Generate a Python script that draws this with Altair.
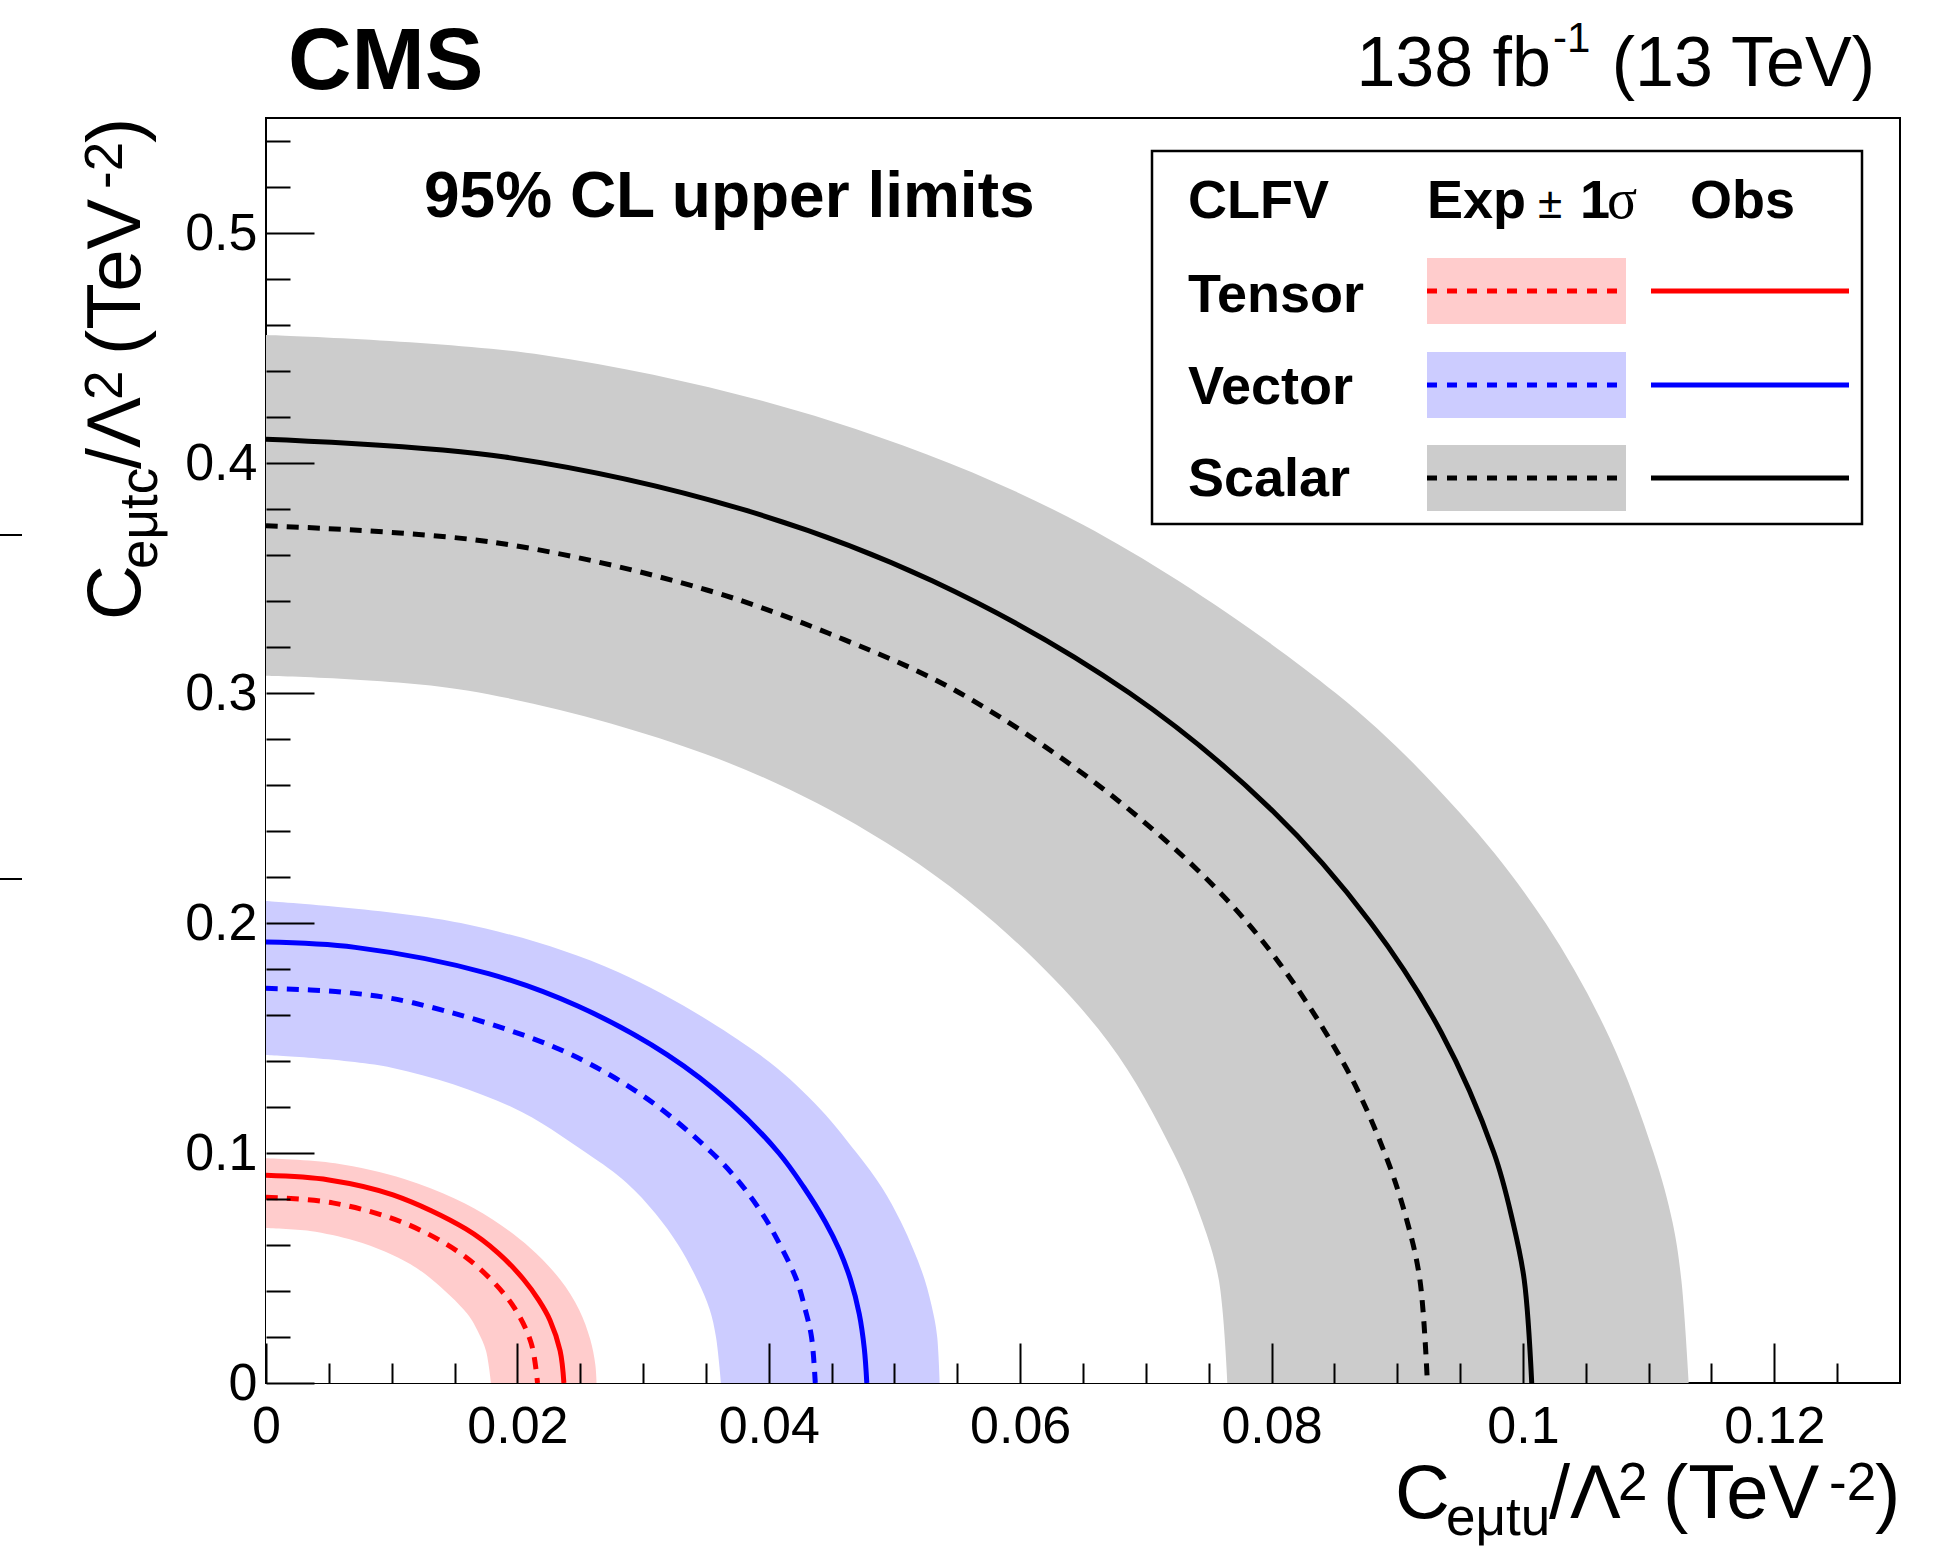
import altair as alt
import pandas as pd

# 95% CL upper-limit contours in the (C_eutu, C_eutc) plane, TeV^-2.
# "LO"/"HI" are the inner and outer edges of the expected +-1 sigma band.

# Tensor
TENSOR_OBS_X = [0.0, 0.0050, 0.0101, 0.0159, 0.0185, 0.0205, 0.0217, 0.0226, 0.0234, 0.0237]
TENSOR_OBS_Y = [0.0903, 0.0883, 0.0818, 0.0670, 0.0564, 0.0450, 0.0360, 0.0272, 0.0140, 0.0]
TENSOR_EXP_X = [0.0, 0.0053, 0.0108, 0.0152, 0.0179, 0.0198, 0.0211, 0.0216]
TENSOR_EXP_Y = [0.0808, 0.0783, 0.0700, 0.0574, 0.0450, 0.0323, 0.0173, 0.0]
TENSOR_LO_X = [0.0, 0.0035, 0.0070, 0.0095, 0.0115, 0.0132, 0.0160, 0.0169, 0.0175, 0.0179]
TENSOR_LO_Y = [0.0674, 0.0661, 0.0620, 0.0571, 0.0516, 0.0450, 0.0302, 0.0220, 0.0140, 0.0]
TENSOR_HI_X = [0.0, 0.0055, 0.0110, 0.0150, 0.0180, 0.0210, 0.0234, 0.0249, 0.0258, 0.0262, 0.0263]
TENSOR_HI_Y = [0.0977, 0.0955, 0.0887, 0.0802, 0.0712, 0.0588, 0.0450, 0.0320, 0.0189, 0.0080, 0.0]

# Vector
VECTOR_OBS_X = [0.0, 0.0071, 0.0177, 0.0248, 0.0319, 0.0370, 0.0408, 0.0428, 0.0445, 0.0456,
                0.0465, 0.0472, 0.0476, 0.0478]
VECTOR_OBS_Y = [0.1917, 0.1894, 0.1780, 0.1639, 0.1428, 0.1214, 0.1000, 0.0850, 0.0700, 0.0580,
                0.0450, 0.0300, 0.0150, 0.0]
VECTOR_EXP_X = [0.0, 0.0060, 0.0117, 0.0230, 0.0300, 0.0355, 0.0377, 0.0395, 0.0409, 0.0422,
                0.0429, 0.0434, 0.0437]
VECTOR_EXP_Y = [0.1716, 0.1700, 0.1653, 0.1459, 0.1248, 0.1000, 0.0870, 0.0735, 0.0600, 0.0450,
                0.0320, 0.0200, 0.0]
VECTOR_LO_X = [0.0, 0.0100, 0.0195, 0.0255, 0.0287, 0.0310, 0.0328, 0.0343, 0.0353, 0.0358, 0.0362]
VECTOR_LO_Y = [0.1426, 0.1371, 0.1201, 0.1000, 0.0870, 0.0736, 0.0600, 0.0450, 0.0320, 0.0200, 0.0]
VECTOR_HI_X = [0.0, 0.0155, 0.0280, 0.0390, 0.0436, 0.0470, 0.0490, 0.0505, 0.0515, 0.0524,
               0.0531, 0.0534, 0.0536]
VECTOR_HI_Y = [0.2096, 0.2000, 0.1787, 0.1438, 0.1220, 0.1000, 0.0850, 0.0702, 0.0580, 0.0450,
               0.0300, 0.0200, 0.0]

# Scalar
SCALAR_OBS_X = [0.0, 0.0190, 0.0380, 0.0530, 0.0687, 0.0800, 0.0879, 0.0935, 0.0977, 0.0992,
                0.1001, 0.1007]
SCALAR_OBS_Y = [0.4103, 0.4026, 0.3797, 0.3488, 0.3000, 0.2492, 0.2000, 0.1524, 0.1000, 0.0700,
                0.0450, 0.0]
SCALAR_EXP_X = [0.0, 0.0180, 0.0350, 0.0460, 0.0552, 0.0680, 0.0781, 0.0855, 0.0890, 0.0908,
                0.0918, 0.0924]
SCALAR_EXP_Y = [0.3727, 0.3656, 0.3449, 0.3232, 0.3000, 0.2523, 0.2000, 0.1413, 0.1000, 0.0700,
                0.0450, 0.0]
SCALAR_LO_X = [0.0, 0.0160, 0.0350, 0.0480, 0.0580, 0.0670, 0.0722, 0.0745, 0.0758, 0.0765]
SCALAR_LO_Y = [0.3075, 0.3011, 0.2734, 0.2394, 0.2000, 0.1484, 0.1000, 0.0700, 0.0450, 0.0]
SCALAR_HI_X = [0.0, 0.0220, 0.0450, 0.0650, 0.0851, 0.0950, 0.1018, 0.1069, 0.1104, 0.1119,
               0.1126, 0.1132]
SCALAR_HI_Y = [0.4557, 0.4470, 0.4182, 0.3731, 0.3000, 0.2478, 0.2000, 0.1500, 0.1000, 0.0700,
               0.0450, 0.0]

# Axis ticks
X_MAJOR = [0, 0.02, 0.04, 0.06, 0.08, 0.1, 0.12]
X_MINOR = [0.005, 0.01, 0.015, 0.025, 0.03, 0.035, 0.045, 0.05, 0.055, 0.065,
           0.07, 0.075, 0.085, 0.09, 0.095, 0.105, 0.11, 0.115, 0.125]
Y_MAJOR = [0, 0.1, 0.2, 0.3, 0.4, 0.5]
Y_MINOR = [0.02, 0.04, 0.06, 0.08, 0.12, 0.14, 0.16, 0.18, 0.22, 0.24, 0.26, 0.28,
           0.32, 0.34, 0.36, 0.38, 0.42, 0.44, 0.46, 0.48, 0.52, 0.54]

FONT = "Liberation Sans"
W, H = 1634, 1265          # plot frame
LEFT, TOP = 266, 118       # frame origin inside the page

X_SCALE = alt.Scale(domain=[0, 0.13], nice=False, zero=False)
Y_SCALE = alt.Scale(domain=[0, 0.55], nice=False, zero=False)

RED, BLUE, BLACK = "#ff0000", "#0000ff", "#000000"
PINK, LILAC, GREY = "#ffcccc", "#ccccff", "#cccccc"
DASH = [12, 9]
LINE_W = 5


def frame(xs, ys):
    return pd.DataFrame({"x": xs, "y": ys, "k": list(range(len(xs)))})


NO_AXIS = None


def tick_axis(orient, values, size):
    off = -H if orient == "top" else -W
    return alt.Axis(orient=orient, offset=off, values=values, labels=False,
                    domain=False, grid=False, title=None, ticks=True,
                    tickSize=size, tickWidth=2, tickColor="black", zindex=1)


def label_axis(orient, values, pad):
    return alt.Axis(orient=orient, values=values, labelExpr="format(datum.value, '~g')",
                    ticks=False, tickSize=0, domain=False, grid=False, title=None,
                    labelFont=FONT, labelFontSize=52, labelColor="black",
                    labelPadding=pad, labelFlush=False, labelOverlap=False)


def band(xs, ys, fill, xaxis=NO_AXIS, yaxis=NO_AXIS):
    # region between the contour and the y = 0 axis (points are in increasing x)
    return alt.Chart(frame(xs, ys)).mark_area(
        color=fill, opacity=1, interpolate="catmull-rom"
    ).encode(
        x=alt.X("x:Q", scale=X_SCALE, axis=xaxis),
        y=alt.Y("y:Q", scale=Y_SCALE, axis=yaxis, stack=None),
    )


def contour(xs, ys, color, dashed):
    props = dict(color=color, strokeWidth=LINE_W, interpolate="catmull-rom")
    if dashed:
        props["strokeDash"] = DASH
    return alt.Chart(frame(xs, ys)).mark_line(**props).encode(
        x=alt.X("x:Q", scale=X_SCALE, axis=None),
        y=alt.Y("y:Q", scale=Y_SCALE, axis=None),
        order="k:Q",
    )


ONE = pd.DataFrame({"a": [0]})


def txt(s, X, Y, size, weight="normal", align="left", font=FONT, angle=0):
    return alt.Chart(ONE).mark_text(
        text=s, fontSize=size, fontWeight=weight, align=align,
        baseline="alphabetic", font=font, angle=angle, color="black",
    ).encode(x=alt.value(X - LEFT), y=alt.value(Y - TOP))


def box(X1, Y1, X2, Y2, fill, stroke=None, sw=0):
    props = dict(fill=fill, opacity=1)
    if stroke:
        props.update(stroke=stroke, strokeWidth=sw)
    return alt.Chart(ONE).mark_rect(**props).encode(
        x=alt.value(X1 - LEFT), x2=alt.value(X2 - LEFT),
        y=alt.value(Y1 - TOP), y2=alt.value(Y2 - TOP))


def hline(X1, X2, Y, color, width, dashed=False):
    props = dict(color=color, strokeWidth=width)
    if dashed:
        props["strokeDash"] = [10, 10]
    return alt.Chart(ONE).mark_rule(**props).encode(
        x=alt.value(X1 - LEFT), x2=alt.value(X2 - LEFT), y=alt.value(Y - TOP))


layers = [
    # +-1 sigma bands (outer edge filled, inner region cleared)
    band(SCALAR_HI_X, SCALAR_HI_Y, GREY,
         label_axis("bottom", X_MAJOR, 18), label_axis("left", Y_MAJOR, 9)),
    band(SCALAR_LO_X, SCALAR_LO_Y, "white",
         tick_axis("top", X_MAJOR, 40), tick_axis("right", Y_MAJOR, 48)),
    band(VECTOR_HI_X, VECTOR_HI_Y, LILAC,
         tick_axis("top", X_MINOR, 20), tick_axis("right", Y_MINOR, 24)),
    band(VECTOR_LO_X, VECTOR_LO_Y, "white"),
    band(TENSOR_HI_X, TENSOR_HI_Y, PINK),
    band(TENSOR_LO_X, TENSOR_LO_Y, "white"),
    # expected (dashed) and observed (solid) limits
    contour(SCALAR_EXP_X, SCALAR_EXP_Y, BLACK, True),
    contour(SCALAR_OBS_X, SCALAR_OBS_Y, BLACK, False),
    contour(VECTOR_EXP_X, VECTOR_EXP_Y, BLUE, True),
    contour(VECTOR_OBS_X, VECTOR_OBS_Y, BLUE, False),
    contour(TENSOR_EXP_X, TENSOR_EXP_Y, RED, True),
    contour(TENSOR_OBS_X, TENSOR_OBS_Y, RED, False),
]

# header texts
layers += [
    txt("CMS", 288, 89, 88, "bold"),
    txt("138 fb", 1551, 86, 70, align="right"),
    txt("-1", 1553, 52, 42),
    txt("(13 TeV)", 1875, 86, 70, align="right"),
    txt("95% CL upper limits", 424, 217, 64, "bold"),
]

# legend
LEG_ROWS = [("Tensor", RED, PINK, 312, 258, 324, 291),
            ("Vector", BLUE, LILAC, 404, 352, 418, 385),
            ("Scalar", BLACK, GREY, 496, 445, 511, 478)]
layers += [
    box(1152, 151, 1862, 524, "white", "black", 2.5),
    txt("CLFV", 1188, 218, 54, "bold"),
    txt("Exp", 1427, 218, 54, "bold"),
    txt("\u00b1", 1538, 218, 44),
    txt("1", 1580, 218, 54, "bold"),
    txt("\u03c3", 1607, 218, 56, font="Liberation Serif"),
    txt("Obs", 1690, 218, 54, "bold"),
]
for name, col, fill, base, y1, y2, yc in LEG_ROWS:
    layers += [
        txt(name, 1188, base, 54, "bold"),
        box(1427, y1, 1626, y2, fill),
        hline(1427, 1626, yc, col, 5, dashed=True),
        hline(1651, 1849, yc, col, 5),
    ]

# axis titles
AX = 76
SUB = 53
layers += [
    txt("C", 1395, 1518, AX),
    txt("e\u03bctu", 1446, 1535, SUB),
    txt("/\u039b", 1549, 1518, AX),
    txt("2", 1618, 1500, SUB),
    txt("(TeV", 1663, 1518, AX),
    txt("-2", 1829, 1500, SUB),
    txt(")", 1875, 1518, AX),
]
YB = 620  # start of the vertical title
for s, d, dx, size in [("C", 0, 0, AX), ("e\u03bctc", 51, 17, SUB), ("/\u039b", 151, 0, AX),
                       ("2", 220, -18, SUB), ("(TeV", 265, 0, AX), ("-2", 431, -18, SUB),
                       (")", 477, 0, AX)]:
    layers.append(txt(s, 140 + dx, YB - d, size, angle=270))

# two short marks at the left page edge
layers += [
    alt.Chart(ONE).mark_rule(color="black", strokeWidth=2).encode(
        x=alt.value(0 - LEFT), x2=alt.value(22 - LEFT), y=alt.value(535 - TOP)),
    alt.Chart(ONE).mark_rule(color="black", strokeWidth=2).encode(
        x=alt.value(0 - LEFT), x2=alt.value(22 - LEFT), y=alt.value(879 - TOP)),
]

chart = alt.layer(*layers).resolve_axis(
    x="independent", y="independent"
).properties(
    width=W, height=H,
    padding={"left": LEFT, "top": TOP, "right": 1941 - LEFT - W, "bottom": 1546 - TOP - H},
    autosize=alt.AutoSizeParams(type="none"),
    background="white",
).configure_view(stroke="black", strokeWidth=2)

chart.save("out.html", embed_options={"renderer": "svg", "actions": False})
